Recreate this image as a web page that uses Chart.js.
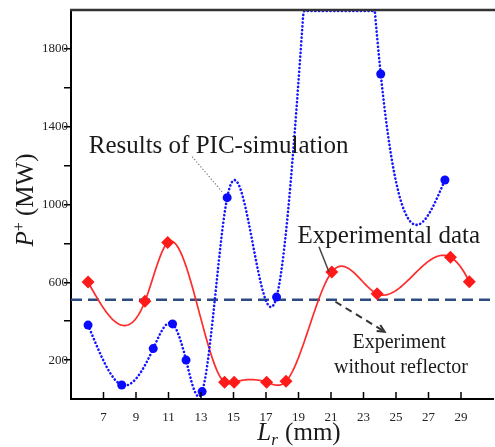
<!DOCTYPE html>
<html>
<head>
<meta charset="utf-8">
<script src="https://cdn.jsdelivr.net/npm/chart.js@4.4.1/dist/chart.umd.min.js"></script>
<style>
  html, body { margin: 0; padding: 0; background: #fff; overflow: hidden; }
  #contenedor { width: 500px; height: 447px; }
</style>
</head>
<body>
<div id="contenedor"><canvas id="grafico" width="500" height="447"></canvas></div>
<script>
// Resultados de la simulación PIC: Lr (mm) y P+ (MW)
// (en 21.35 mm la potencia simulada queda fuera de la escala, por encima de 2000 MW)
const lrSimulacion = [6.05, 8.12, 10.06, 11.25, 12.08, 13.07, 14.61, 17.65, 21.35, 24.06, 28.01];
const potenciaSimulacion = [380, 72, 259, 386, 200, 38, 1035, 524, 3700, 1671, 1126];

// Datos experimentales
const lrExperimento = [6.05, 9.55, 10.95, 14.45, 15.04, 17.04, 18.23, 21.05, 23.84, 28.35, 29.51];
const potenciaExperimento = [601, 502, 804, 86, 86, 86, 91, 653, 541, 729, 603];

// Nivel medido sin reflector
const potenciaSinReflector = 510;

// Ejes
const rangoLr = [5, 31];
const rangoPotencia = [0, 2000];
const ticksLr = [7, 9, 11, 13, 15, 17, 19, 21, 23, 25, 27, 29];
const ticksPotencia = [200, 400, 600, 800, 1000, 1200, 1400, 1600, 1800];
const etiquetasPotencia = [200, 600, 1000, 1400, 1800];

const fuenteSerif = "'Liberation Serif', 'Times New Roman', serif";
const colorTexto = '#1a1a1a';

const aPuntos = (xs, ys) => xs.map((x, i) => ({ x: x, y: ys[i] }));

// Segundas derivadas del spline cúbico; extremos naturales o con pendiente fija
function segundasDerivadas(xs, ys, p0, pn) {
    const n = xs.length;
    const h = [];
    for (let i = 0; i < n - 1; i++) h.push(xs[i + 1] - xs[i]);
    const a = new Array(n).fill(0), b = new Array(n).fill(0);
    const c = new Array(n).fill(0), d = new Array(n).fill(0);
    if (p0 == null) { b[0] = 1; }
    else {
        b[0] = 2 * h[0]; c[0] = h[0];
        d[0] = 6 * ((ys[1] - ys[0]) / h[0] - p0);
    }
    for (let i = 1; i < n - 1; i++) {
        a[i] = h[i - 1];
        b[i] = 2 * (h[i - 1] + h[i]);
        c[i] = h[i];
        d[i] = 6 * ((ys[i + 1] - ys[i]) / h[i] - (ys[i] - ys[i - 1]) / h[i - 1]);
    }
    if (pn == null) { b[n - 1] = 1; }
    else {
        a[n - 1] = h[n - 2]; b[n - 1] = 2 * h[n - 2];
        d[n - 1] = 6 * (pn - (ys[n - 1] - ys[n - 2]) / h[n - 2]);
    }
    // algoritmo de Thomas
    for (let i = 1; i < n; i++) {
        const w = a[i] / b[i - 1];
        b[i] -= w * c[i - 1];
        d[i] -= w * d[i - 1];
    }
    const m = new Array(n);
    m[n - 1] = d[n - 1] / b[n - 1];
    for (let i = n - 2; i >= 0; i--) m[i] = (d[i] - c[i] * m[i + 1]) / b[i];
    return m;
}

// Dibuja la curva suavizada de cada serie por debajo de sus marcadores
const curvaSpline = {
    id: 'curvaSpline',
    beforeDatasetDraw(chart, args) {
        const ds = chart.data.datasets[args.index];
        if (!ds.curva) return;
        const xs = ds.data.map(p => p.x);
        const ys = ds.data.map(p => p.y);
        const pend = ds.curva.pendientes || [null, null];
        const m = segundasDerivadas(xs, ys, pend[0], pend[1]);
        const sx = chart.scales.x;
        const sy = chart.scales.y;
        const area = chart.chartArea;
        const ctx = chart.ctx;

        ctx.save();
        ctx.beginPath();
        ctx.rect(area.left, area.top - 2, area.right - area.left, area.bottom - area.top + 2);
        ctx.clip();
        ctx.beginPath();
        let primero = true;
        for (let i = 0; i < xs.length - 1; i++) {
            const h = xs[i + 1] - xs[i];
            const pasos = Math.max(2, Math.ceil(sx.getPixelForValue(xs[i + 1]) - sx.getPixelForValue(xs[i])));
            for (let s = (i === 0 ? 0 : 1); s <= pasos; s++) {
                const x = xs[i] + h * s / pasos;
                const A = (xs[i + 1] - x) / h;
                const B = (x - xs[i]) / h;
                const v = A * ys[i] + B * ys[i + 1] +
                    ((A * A * A - A) * m[i] + (B * B * B - B) * m[i + 1]) * h * h / 6;
                // lo que sale por arriba queda pegado al borde superior
                const yp = Math.max(sy.getPixelForValue(v), area.top + 1);
                const xp = sx.getPixelForValue(x);
                if (primero) { ctx.moveTo(xp, yp); primero = false; }
                else ctx.lineTo(xp, yp);
            }
        }
        ctx.strokeStyle = ds.borderColor;
        ctx.lineWidth = ds.curva.ancho;
        ctx.setLineDash(ds.curva.trazo || []);
        ctx.lineCap = ds.curva.trazo ? 'round' : 'butt';
        ctx.lineJoin = 'round';
        ctx.stroke();
        ctx.restore();
    }
};

function flecha(ctx, x0, y0, x1, y1, tam) {
    const ang = Math.atan2(y1 - y0, x1 - x0);
    ctx.setLineDash([]);
    ctx.beginPath();
    ctx.moveTo(x1 - tam * Math.cos(ang - 0.45), y1 - tam * Math.sin(ang - 0.45));
    ctx.lineTo(x1, y1);
    ctx.lineTo(x1 - tam * Math.cos(ang + 0.45), y1 - tam * Math.sin(ang + 0.45));
    ctx.stroke();
}

// Marco superior, ticks interiores del eje x, títulos de ejes y notas
const decoracion = {
    id: 'decoracion',
    afterDraw(chart) {
        const ctx = chart.ctx;
        const area = chart.chartArea;
        const sx = chart.scales.x;
        const sy = chart.scales.y;
        const px = v => sx.getPixelForValue(v);
        const py = v => sy.getPixelForValue(v);

        ctx.save();
        // borde superior
        ctx.strokeStyle = '#333';
        ctx.lineWidth = 2.5;
        ctx.beginPath();
        ctx.moveTo(area.left - 1, area.top);
        ctx.lineTo(chart.width, area.top);
        ctx.stroke();

        // ticks del eje x hacia adentro
        ctx.strokeStyle = '#000';
        ctx.lineWidth = 1.5;
        ticksLr.forEach(v => {
            ctx.beginPath();
            ctx.moveTo(px(v), area.bottom);
            ctx.lineTo(px(v), area.bottom - 7);
            ctx.stroke();
        });

        ctx.fillStyle = colorTexto;
        ctx.textBaseline = 'alphabetic';

        // título eje x: Lr (mm)
        const tx = px(19);
        const bx = 440;
        ctx.font = 'italic 25px ' + fuenteSerif;
        const wL = ctx.measureText('L').width;
        ctx.font = 'italic 17px ' + fuenteSerif;
        const wr = ctx.measureText('r').width;
        ctx.font = '25px ' + fuenteSerif;
        const wmm = ctx.measureText(' (mm)').width;
        let x0 = tx - (wL + wr + wmm) / 2;
        ctx.textAlign = 'left';
        ctx.font = 'italic 25px ' + fuenteSerif;
        ctx.fillText('L', x0, bx);
        ctx.font = 'italic 17px ' + fuenteSerif;
        ctx.fillText('r', x0 + wL, bx + 5);
        ctx.font = '25px ' + fuenteSerif;
        ctx.fillText(' (mm)', x0 + wL + wr + 1, bx);

        // título eje y: P+ (MW)
        ctx.save();
        ctx.translate(33, 200);
        ctx.rotate(-Math.PI / 2);
        ctx.font = 'italic 25px ' + fuenteSerif;
        const wP = ctx.measureText('P').width;
        ctx.font = '16px ' + fuenteSerif;
        const wMas = ctx.measureText('+').width;
        ctx.font = '25px ' + fuenteSerif;
        const wMW = ctx.measureText(' (MW)').width;
        x0 = -(wP + wMas + wMW) / 2;
        ctx.font = 'italic 25px ' + fuenteSerif;
        ctx.fillText('P', x0, 0);
        ctx.font = '16px ' + fuenteSerif;
        ctx.fillText('+', x0 + wP, -9);
        ctx.font = '25px ' + fuenteSerif;
        ctx.fillText(' (MW)', x0 + wP + wMas, 0);
        ctx.restore();

        // notas
        ctx.font = '25px ' + fuenteSerif;
        ctx.textAlign = 'left';
        ctx.fillText('Results of PIC-simulation', px(6.09), py(1265));
        ctx.fillText('Experimental data', px(18.94), py(800));
        ctx.font = '20px ' + fuenteSerif;
        ctx.textAlign = 'center';
        ctx.fillText('Experiment', px(25.19), py(262));
        ctx.fillText('without reflector', px(25.31), py(135));

        // línea punteada hacia la simulación
        ctx.strokeStyle = '#777';
        ctx.lineWidth = 1.2;
        ctx.setLineDash([1.2, 2]);
        ctx.beginPath();
        ctx.moveTo(px(12.46), py(1246));
        ctx.lineTo(px(14.29), py(1066));
        ctx.stroke();

        // línea hacia los datos experimentales
        ctx.strokeStyle = '#444';
        ctx.lineWidth = 1.5;
        ctx.setLineDash([]);
        ctx.beginPath();
        ctx.moveTo(px(20.26), py(783));
        ctx.lineTo(px(20.87), py(654));
        ctx.stroke();

        // flecha discontinua hacia el nivel sin reflector
        ctx.strokeStyle = '#333';
        ctx.lineWidth = 2;
        ctx.setLineDash([7, 5]);
        ctx.beginPath();
        ctx.moveTo(px(21.27), py(500));
        ctx.lineTo(px(24.30), py(346));
        ctx.stroke();
        flecha(ctx, px(21.27), py(500), px(24.30), py(346), 8);
        ctx.restore();
    }
};

const ctx = document.getElementById('grafico').getContext('2d');

const miGrafico = new Chart(ctx, {
    type: 'scatter',
    data: {
        datasets: [
            {
                label: 'Results of PIC-simulation',
                data: aPuntos(lrSimulacion, potenciaSimulacion),
                showLine: false,
                pointStyle: 'circle',
                pointRadius: 4.5,
                pointBackgroundColor: '#0a0aff',
                pointBorderWidth: 0,
                borderColor: '#1414ff',
                clip: 0,
                curva: { ancho: 2.6, trazo: [0.1, 3.7], pendientes: [-200, null] }
            },
            {
                label: 'Experimental data',
                data: aPuntos(lrExperimento, potenciaExperimento),
                showLine: false,
                pointStyle: 'rectRot',
                pointRadius: 6.5,
                pointBackgroundColor: '#ff1a1a',
                pointBorderWidth: 0,
                borderColor: '#ff2a2a',
                curva: { ancho: 1.7, pendientes: [-150, -170] }
            },
            {
                label: 'Experiment without reflector',
                data: aPuntos(rangoLr, [potenciaSinReflector, potenciaSinReflector]),
                showLine: true,
                pointRadius: 0,
                borderColor: '#2d4b80',
                borderWidth: 2.6,
                borderDash: [11, 6]
            }
        ]
    },
    options: {
        responsive: false,
        animation: false,
        devicePixelRatio: 1,
        layout: { padding: { top: 10, right: 1, left: 0, bottom: 0 } },
        plugins: {
            legend: { display: false },
            tooltip: { enabled: false }
        },
        scales: {
            x: {
                type: 'linear',
                min: rangoLr[0],
                max: rangoLr[1],
                afterFit: scale => { scale.height = 48; },
                afterBuildTicks: scale => { scale.ticks = ticksLr.map(v => ({ value: v })); },
                grid: { display: false },
                border: { display: true, color: '#000', width: 2 },
                ticks: {
                    padding: 3,
                    color: '#222',
                    maxRotation: 0,
                    autoSkip: false,
                    font: { family: fuenteSerif, size: 13 }
                }
            },
            y: {
                type: 'linear',
                min: rangoPotencia[0],
                max: rangoPotencia[1],
                afterFit: scale => { scale.width = 71; },
                afterBuildTicks: scale => { scale.ticks = ticksPotencia.map(v => ({ value: v })); },
                grid: {
                    drawOnChartArea: false,
                    drawTicks: true,
                    tickLength: 7,
                    color: '#000',
                    lineWidth: 1.5
                },
                border: { display: true, color: '#000', width: 2 },
                ticks: {
                    padding: -4,
                    color: '#222',
                    autoSkip: false,
                    font: { family: fuenteSerif, size: 13 },
                    callback: value => etiquetasPotencia.includes(value) ? value : ''
                }
            }
        }
    },
    plugins: [curvaSpline, decoracion]
});
</script>
</body>
</html>
